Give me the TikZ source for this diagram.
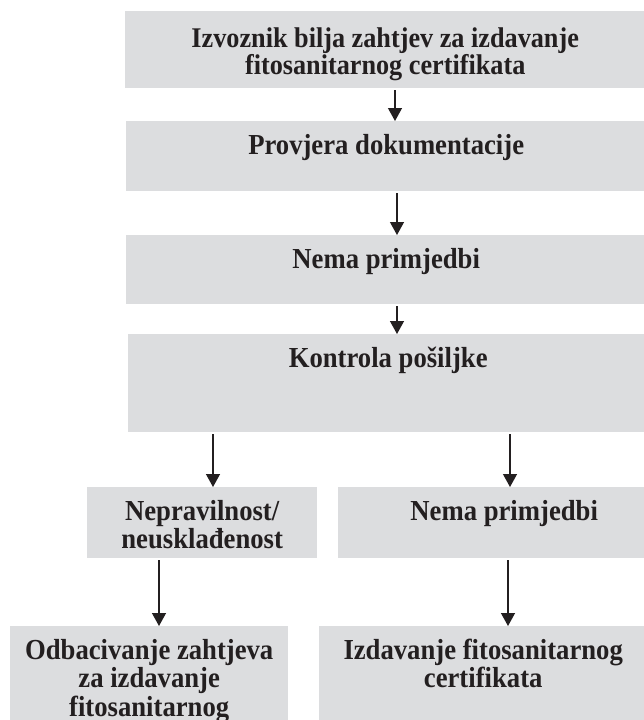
\documentclass[tikz,border=0pt]{standalone}
\usepackage{fontspec}
\setmainfont{Liberation Serif}
\newfontfamily\stepfont{Liberation Serif}[FakeStretch=0.92]
\usepackage{tikz}
\usetikzlibrary{positioning,arrows.meta,calc}
\usepackage{xcolor}
\definecolor{boxgray}{RGB}{220,221,223}
\definecolor{inkdark}{RGB}{35,31,32}

\begin{document}
\begin{tikzpicture}[
  x=1pt, y=1pt,
  font=\stepfont\fontsize{29}{28.5}\selectfont\bfseries,
  text=inkdark,
  stepbox/.style={
    rectangle, fill=boxgray, anchor=north west,
    inner xsep=0pt, inner ysep=0pt, align=center,
    text height=33pt
  },
  arr/.style={-{Triangle[length=13pt,width=14pt]}, line width=1.3pt, draw=inkdark, shorten <=2pt}
]
\useasboundingbox (0,0) rectangle (644,-720);
\clip (0,0) rectangle (644,-720);

\node[stepbox, minimum width=520pt, text height=63pt, text depth=14pt,
  font=\stepfont\fontsize{28.5}{25}\selectfont\bfseries] (request) at (125,-11)
  {Izvoznik bilja zahtjev za izdavanje\\fitosanitarnog certifikata};
\node[stepbox, minimum width=520pt, text depth=37pt] (docs) at (126,-121)
  {Provjera dokumentacije};
\node[stepbox, minimum width=520pt, text depth=36pt] (noremark) at (126,-235)
  {Nema primjedbi};
\node[stepbox, minimum width=520pt, text depth=65pt] (control) at (128,-334)
  {Kontrola pošiljke};
\node[stepbox, minimum width=230pt, text height=61.5pt, text depth=9.5pt] (irregular) at (87,-487)
  {Nepravilnost/\\neusklađenost};
\node[stepbox, minimum width=332pt, text depth=38pt] (noremarkb) at (338,-487)
  {Nema primjedbi};
\node[stepbox, minimum width=278pt, text height=90pt, text depth=30pt] (reject) at (10,-626)
  {Odbacivanje zahtjeva\\za izdavanje\\fitosanitarnog};
\node[stepbox, minimum width=328pt, text height=61.5pt, text depth=60pt] (issue) at (319,-626)
  {Izdavanje fitosanitarnog\\certifikata};

\draw[arr] (request.south -| 395,0) -- (docs.north -| 395,0);
\draw[arr] (docs.south -| 397,0) -- (noremark.north -| 397,0);
\draw[arr] (noremark.south -| 397,0) -- (control.north -| 397,0);
\draw[arr] (control.south -| 213,0) -- (irregular.north -| 213,0);
\draw[arr] (control.south -| 510,0) -- (noremarkb.north -| 510,0);
\draw[arr] (irregular.south -| 159,0) -- (reject.north -| 159,0);
\draw[arr] (noremarkb.south -| 508,0) -- (issue.north -| 508,0);

\end{tikzpicture}
\end{document}
